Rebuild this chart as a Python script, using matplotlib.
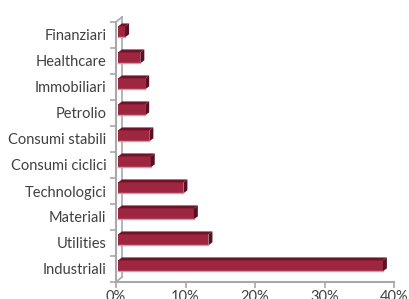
import matplotlib.pyplot as plt
from matplotlib.patches import Polygon

# sector weights (%)
sectors = ['Industriali', 'Utilities', 'Materiali', 'Technologici', 'Consumi ciclici',
           'Consumi stabili', 'Petrolio', 'Immobiliari', 'Healthcare', 'Finanziari']
weights = [38.4, 13.3, 11.2, 9.7, 5.0, 4.8, 4.2, 4.2, 3.5, 1.3]
xticks = [0, 10, 20, 30, 40]
xticklabels = ['0%', '10%', '20%', '30%', '40%']

plt.rcParams['font.family'] = ['Lato', 'DejaVu Sans']

fig = plt.figure(figsize=(4.09, 2.99), dpi=100)
ax = fig.add_axes([116 / 409, 1 - 282 / 299, 278 / 409, 260 / 299])
ax.set_xlim(0, 40)
ax.set_ylim(-0.5, len(sectors) - 0.5)

# pixel -> data conversion for the fake 3D depth
px_x = 40 / 278
px_y = len(sectors) / 260
dx, dy = 4 * px_x, 3 * px_y

front = '#9E2641'
top = '#6E1629'
side = '#5A1022'
grey = '#A8A8A8'

h = 0.42
ypos = [i + 0.12 for i in range(len(sectors))]
x0 = 2 * px_x
for y, v in zip(ypos, weights):
    ax.barh(y, v - x0, left=x0, height=h, color=front, edgecolor='none', zorder=3)
    # lighter lower edge
    ax.plot([x0, v], [y - h / 2, y - h / 2], color='#D69AA8', lw=1, zorder=4)
    yt = y + h / 2
    ax.add_patch(Polygon([(x0, yt), (v, yt), (v + dx, yt + dy), (x0 + dx, yt + dy)],
                         closed=True, color=top, lw=0, zorder=3))
    ax.add_patch(Polygon([(v, y - h / 2), (v + dx, y - h / 2 + dy), (v + dx, yt + dy), (v, yt)],
                         closed=True, color=side, lw=0, zorder=3))

# back wall line and connectors
wx, wy = 6 * px_x, 5 * px_y
ylo, yhi = -0.5, len(sectors) - 0.5
ax.plot([wx, wx], [ylo + wy, yhi + wy], color=grey, lw=1.2, clip_on=False, zorder=1)
ax.plot([0, wx], [yhi, yhi + wy], color=grey, lw=1.2, clip_on=False, zorder=1)
ax.plot([0, wx], [ylo, ylo + wy], color=grey, lw=1.2, clip_on=False, zorder=1)

for s in ['top', 'right']:
    ax.spines[s].set_visible(False)
for s in ['left', 'bottom']:
    ax.spines[s].set_color(grey)
    ax.spines[s].set_linewidth(1.5)

ax.set_xticks(xticks)
ax.set_xticklabels(xticklabels)
ax.set_yticks(range(len(sectors)))
ax.set_yticklabels(sectors)
ax.set_yticks([i - 0.5 for i in range(len(sectors) + 1)], minor=True)
ax.tick_params(axis='y', which='major', length=0, pad=7, labelsize=10.5, labelcolor='#404040')
ax.tick_params(axis='y', which='minor', length=4, width=1.2, color=grey)
ax.tick_params(axis='x', length=4, width=1.2, color=grey, pad=1.5, labelsize=10.5, labelcolor='#404040')

fig.savefig('out.png', dpi=100)
